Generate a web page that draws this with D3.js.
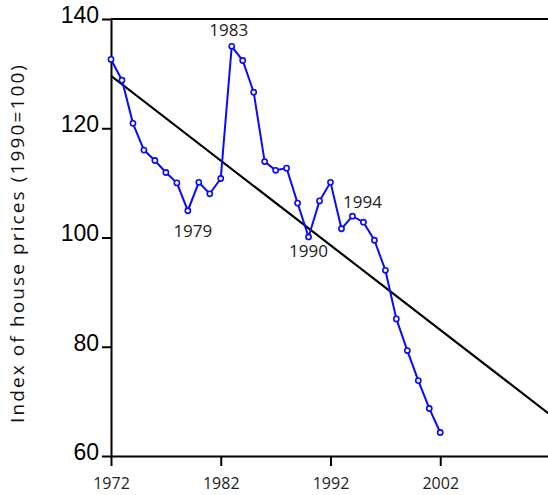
<!DOCTYPE html>
<html>
<head>
<meta charset="utf-8">
<script src="https://cdn.jsdelivr.net/npm/d3@7"></script>
<style>
  html, body { margin: 0; padding: 0; background: #fff; }
  svg { display: block; }
</style>
</head>
<body>
<svg id="chart" width="548" height="495"></svg>
<script>
// House price index, 1990 = 100
const years = [1972,1973,1974,1975,1976,1977,1978,1979,1980,1981,1982,1983,1984,1985,1986,1987,
               1988,1989,1990,1991,1992,1993,1994,1995,1996,1997,1998,1999,2000,2001,2002];
const index = [132.6,128.8,120.9,116.0,114.1,111.9,110.0,104.9,110.1,108.0,110.8,135.0,132.4,126.6,113.9,112.3,
               112.7,106.3,100.1,106.7,110.1,101.6,103.9,102.8,99.5,94.0,85.1,79.3,73.8,68.7,64.3];

// Linear trend drawn across the full horizontal range
const trendYears = [1972, 2012];
const trendValues = [129.6, 67.6];

// Annotated years
const labelYears = [1979, 1983, 1990, 1994];

const yTicks = [60, 80, 100, 120, 140];
const xTicks = [1972, 1982, 1992, 2002];

const svg = d3.select("#chart");

const x = d3.scaleLinear().domain([1972, 2012]).range([111, 550]);
const y = d3.scaleLinear().domain([60, 140]).range([456, 19]);

// Frame: top border line
svg.append("line")
  .attr("x1", 111).attr("x2", 548)
  .attr("y1", y(140)).attr("y2", y(140))
  .attr("stroke", "#000").attr("stroke-width", 2);

// Y axis
const yAxis = svg.append("g")
  .attr("transform", `translate(${x(1972)},0)`)
  .call(d3.axisLeft(y).tickValues(yTicks).tickSize(9).tickSizeOuter(0).tickPadding(3));
yAxis.select(".domain").attr("stroke-width", 2);
yAxis.selectAll(".tick line").attr("stroke-width", 2);
yAxis.selectAll(".tick text")
  .attr("font-family", "'Liberation Sans', Arial, sans-serif")
  .attr("font-size", 23)
  .attr("fill", "#000")
  .attr("dy", "0.15em");

// X axis
const xAxis = svg.append("g")
  .attr("transform", `translate(0,${y(60)})`)
  .call(d3.axisBottom(x).tickValues(xTicks).tickFormat(d3.format("d")).tickSize(10).tickSizeOuter(0).tickPadding(12));
xAxis.select(".domain").attr("stroke-width", 2);
xAxis.selectAll(".tick line").attr("stroke-width", 2);
xAxis.selectAll(".tick text")
  .attr("font-family", "'Open Sans', sans-serif")
  .attr("font-size", 16)
  .attr("fill", "#222");

// Y axis title
svg.append("text")
  .attr("transform", "translate(24,244) rotate(-90)")
  .attr("text-anchor", "middle")
  .attr("font-family", "'Open Sans', sans-serif")
  .attr("font-size", 19)
  .attr("fill", "#111")
  .attr("textLength", 358)
  .attr("lengthAdjust", "spacing")
  .text("Index of house prices (1990=100)");

// Trend line
const trend = trendYears.map((yr, i) => [yr, trendValues[i]]);
const trendLine = d3.line().x(d => x(d[0])).y(d => y(d[1]));
svg.append("path")
  .datum(trend)
  .attr("d", trendLine)
  .attr("transform", "translate(0,0.9)")
  .attr("fill", "none")
  .attr("stroke", "#2a8a2a")
  .attr("stroke-width", 1);
svg.append("path")
  .datum(trend)
  .attr("d", trendLine)
  .attr("fill", "none")
  .attr("stroke", "#000")
  .attr("stroke-width", 2);

// Price series
const series = years.map((yr, i) => ({ year: yr, value: index[i] }));
svg.append("path")
  .datum(series)
  .attr("d", d3.line().x(d => x(d.year)).y(d => y(d.value)))
  .attr("fill", "none")
  .attr("stroke", "#0a0aff")
  .attr("stroke-width", 2);

svg.selectAll("circle.pt")
  .data(series)
  .join("circle")
  .attr("class", "pt")
  .attr("cx", d => x(d.year))
  .attr("cy", d => y(d.value))
  .attr("r", 2.6)
  .attr("fill", "#fff")
  .attr("stroke", "#0a0aff")
  .attr("stroke-width", 1.6);

// Year annotations
const labelOffset = {
  1979: [5, 26],
  1983: [-3, -10],
  1990: [0, 20],
  1994: [10, -8]
};
svg.selectAll("text.yr")
  .data(series.filter(d => labelYears.includes(d.year)))
  .join("text")
  .attr("class", "yr")
  .attr("x", d => x(d.year) + labelOffset[d.year][0])
  .attr("y", d => y(d.value) + labelOffset[d.year][1])
  .attr("text-anchor", "middle")
  .attr("font-family", "'Open Sans', sans-serif")
  .attr("font-size", 17)
  .attr("fill", "#222")
  .text(d => d.year);
</script>
</body>
</html>
